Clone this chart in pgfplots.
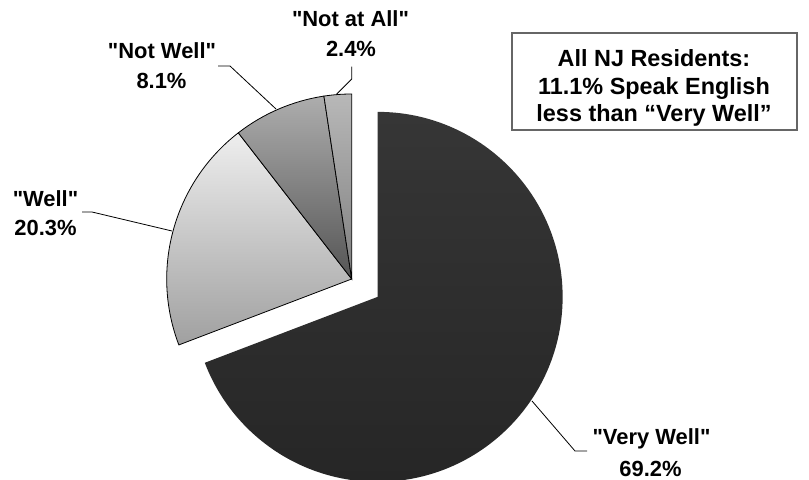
\documentclass[border=0pt]{standalone}
\usepackage{pgfplots}
\usepackage{pgfplotstable}
\pgfplotsset{compat=1.18}
\usepackage{fontspec}
\setmainfont{Liberation Sans}[Ligatures=TeXOff]
\usetikzlibrary{calc}

\pgfplotstableread{
label value
VeryWell 69.2
Well 20.3
NotWell 8.1
NotAtAll 2.4
}\piedata

\definecolor{vwTop}{HTML}{363636}
\definecolor{vwBot}{HTML}{262626}
\definecolor{wTop}{HTML}{EEEEEE}
\definecolor{wBot}{HTML}{A0A0A0}
\definecolor{nwTop}{HTML}{ADADAD}
\definecolor{nwBot}{HTML}{555555}
\definecolor{naTop}{HTML}{B8B8B8}
\definecolor{naBot}{HTML}{7E7E7E}

\begin{document}
\begin{tikzpicture}
\pgfplotstablegetelem{0}{value}\of\piedata \let\vA\pgfplotsretval
\pgfplotstablegetelem{1}{value}\of\piedata \let\vB\pgfplotsretval
\pgfplotstablegetelem{2}{value}\of\piedata \let\vC\pgfplotsretval
\pgfplotstablegetelem{3}{value}\of\piedata \let\vD\pgfplotsretval
\pgfmathsetmacro\aA{90-3.6*\vA}
\pgfmathsetmacro\aB{\aA-3.6*\vB}
\pgfmathsetmacro\aC{\aB-3.6*\vC}
\pgfmathsetmacro\aD{\aC-3.6*\vD}
\pgfmathsetmacro\mA{(90+\aA)/2}
\def\R{185bp}
\tikzset{lbl/.style={anchor=base, font=\fontsize{22}{26}\selectfont\bfseries, inner sep=0pt},
         box/.style={anchor=base, font=\fontsize{23.5}{28}\selectfont\bfseries, inner sep=0pt}}
\begin{axis}[width=809bp, height=480bp, scale only axis,
  xmin=0, xmax=809, ymin=0, ymax=480, y dir=reverse, hide axis, clip=true]
% Very Well (exploded)
\shade[top color=vwTop, bottom color=vwBot]
  ($(axis cs:351.7,279)+(\mA:31.5bp)$) -- ++(90:\R)
  arc[start angle=90, end angle=\aA, radius=\R] -- cycle;
% Well
\shadedraw[top color=wTop, bottom color=wBot, draw=black, line width=0.8bp]
  (axis cs:351.7,279) -- ++(\aA:\R)
  arc[start angle=\aA, end angle=\aB, radius=\R] -- cycle;
% Not Well
\shadedraw[top color=nwTop, bottom color=nwBot, draw=black, line width=0.8bp]
  (axis cs:351.7,279) -- ++(\aB:\R)
  arc[start angle=\aB, end angle=\aC, radius=\R] -- cycle;
% Not at All
\shadedraw[top color=naTop, bottom color=naBot, draw=black, line width=0.8bp]
  (axis cs:351.7,279) -- ++(\aC:\R)
  arc[start angle=\aC, end angle=\aD, radius=\R] -- cycle;
% leader lines
\draw[line width=0.8bp] (axis cs:351.7,66.7) -- (axis cs:351.7,79) -- (axis cs:336.7,94);
\draw[line width=0.8bp] (axis cs:218,66) -- (axis cs:230,66) -- (axis cs:276,109);
\draw[line width=0.8bp] (axis cs:82,212) -- (axis cs:92,212) -- (axis cs:172,231);
\draw[line width=0.8bp] (axis cs:587,451) -- (axis cs:575,451) -- (axis cs:532,401);
% labels
\node[lbl] at (axis cs:350.5,27) {"Not at All"};
\node[lbl] at (axis cs:351,57) {2.4\%};
\node[lbl] at (axis cs:162,59) {"Not Well"};
\node[lbl] at (axis cs:161.5,89) {8.1\%};
\node[lbl] at (axis cs:45.5,207) {"Well"};
\node[lbl] at (axis cs:45.5,236) {20.3\%};
\node[lbl] at (axis cs:651.5,445) {"Very Well"};
\node[lbl] at (axis cs:650.5,477) {69.2\%};
% info box
\draw[draw=black!60, line width=1.3bp] (axis cs:512,33) rectangle (axis cs:797,130);
\node[box] at (axis cs:654,66.7) {All NJ Residents:};
\node[box] at (axis cs:654,95) {11.1\% Speak English};
\node[box] at (axis cs:654,121.7) {less than “Very Well”};
\end{axis}
\pgfresetboundingbox
\path (current axis.south west) rectangle (current axis.north east);
\end{tikzpicture}
\end{document}
